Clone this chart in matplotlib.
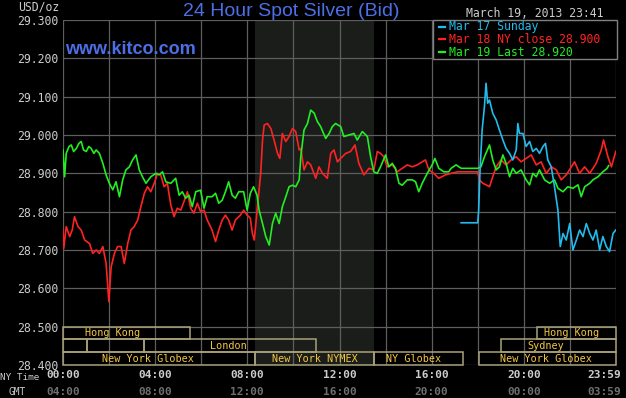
import matplotlib
matplotlib.use('Agg')
import matplotlib.pyplot as plt
from matplotlib.patches import Rectangle
from matplotlib.lines import Line2D
import matplotlib.transforms as mtransforms

# ---------------- data ----------------
green_h = [0.0, 0.07, 0.14, 0.26, 0.36, 0.46, 0.58, 0.69, 0.79, 0.89, 1.01, 1.12, 1.22, 1.34, 1.44, 1.58,
           1.73, 1.87, 2.01, 2.16, 2.30, 2.45, 2.59, 2.73, 2.88, 3.02, 3.17, 3.31, 3.45, 3.60, 3.81, 4.03,
           4.17, 4.32, 4.46, 4.68, 4.89, 5.04, 5.18, 5.32, 5.47, 5.61, 5.76, 5.97, 6.12, 6.26, 6.47, 6.62,
           6.76, 6.91, 7.05, 7.19, 7.34, 7.48, 7.63, 7.84, 7.99, 8.13, 8.27, 8.42,
           8.51, 8.66, 8.80, 8.95, 9.09, 9.23, 9.38, 9.52, 9.67, 9.81, 9.96, 10.10, 10.25, 10.32, 10.46,
           10.61, 10.75, 10.90, 11.04, 11.18, 11.40, 11.55, 11.69, 11.83, 12.05, 12.19, 12.41, 12.63,
           12.77, 12.99, 13.21, 13.35, 13.49, 13.64, 13.78, 14.00, 14.14, 14.29, 14.43, 14.58, 14.72,
           14.94, 15.16, 15.30, 15.44, 15.59, 15.81, 16.02, 16.14, 16.31, 16.53, 16.74,
           16.84, 17.06, 17.28, 18.0, 18.14, 18.29, 18.51, 18.65, 18.80, 18.94, 19.09, 19.23, 19.38,
           19.52, 19.67, 19.88, 20.10, 20.25, 20.39, 20.54, 20.68, 20.90, 21.12, 21.33, 21.48, 21.70,
           21.91, 22.13, 22.35, 22.49, 22.64, 22.86, 23.00, 23.22, 23.43, 23.60, 23.68]
green_v = [28.961, 28.891, 28.952, 28.970, 28.974, 28.957, 28.965, 28.978, 28.983, 28.961, 28.957, 28.970,
           28.965, 28.952, 28.961, 28.952, 28.926, 28.896, 28.874, 28.857, 28.878, 28.839, 28.883, 28.909,
           28.917, 28.935, 28.948, 28.909, 28.891, 28.874, 28.891, 28.900, 28.896, 28.904, 28.878, 28.874,
           28.887, 28.843, 28.852, 28.835, 28.843, 28.813, 28.852, 28.856, 28.809, 28.839, 28.839, 28.848,
           28.822, 28.830, 28.852, 28.878, 28.843, 28.835, 28.852, 28.852, 28.804, 28.848, 28.865, 28.843,
           28.804, 28.769, 28.735, 28.713, 28.769, 28.796, 28.769, 28.813, 28.839, 28.865, 28.869, 28.865,
           28.883, 28.943, 29.013, 29.030, 29.065, 29.057, 29.035, 29.022, 28.991, 29.004, 29.022, 29.030,
           29.022, 28.996, 29.000, 29.004, 28.987, 29.009, 28.996, 28.943, 28.904, 28.900, 28.917, 28.948,
           28.917, 28.926, 28.913, 28.874, 28.869, 28.883, 28.883, 28.878, 28.852, 28.874, 28.900, 28.922,
           28.939, 28.913, 28.904, 28.904,
           28.913, 28.922, 28.913, 28.913, 28.917, 28.943, 28.974, 28.935, 28.909, 28.917, 28.948, 28.926,
           28.891, 28.913, 28.900, 28.909, 28.883, 28.870, 28.900, 28.891, 28.909, 28.883, 28.874, 28.883,
           28.861, 28.852, 28.865, 28.861, 28.870, 28.839, 28.865, 28.874, 28.883, 28.891, 28.904, 28.912,
           28.920]

red_h = [0.0, 0.03, 0.14, 0.29, 0.40, 0.50, 0.65, 0.79, 0.94, 1.15, 1.29, 1.44, 1.58, 1.73, 1.87, 1.99,
         2.09, 2.23, 2.37, 2.52, 2.66, 2.81, 2.95, 3.09, 3.24, 3.38, 3.53, 3.67, 3.81, 3.96, 4.10, 4.24,
         4.39, 4.53, 4.68, 4.82, 4.96, 5.11, 5.25, 5.40, 5.54, 5.68, 5.83, 5.97, 6.12, 6.26, 6.47, 6.62,
         6.76, 6.91, 7.05, 7.19, 7.34, 7.48, 7.70, 7.84, 7.99, 8.13,
         8.22, 8.30, 8.44, 8.58, 8.66, 8.73, 8.87, 9.02, 9.16, 9.31, 9.41, 9.52, 9.67, 9.81, 9.96, 10.10,
         10.25, 10.32, 10.46, 10.61, 10.75, 10.97, 11.11, 11.26, 11.47, 11.62, 11.76, 11.91, 12.05, 12.27,
         12.48, 12.67, 12.84, 13.06, 13.28, 13.49, 13.64, 13.78, 13.93, 14.07, 14.29, 14.51, 14.72, 14.94,
         15.16, 15.37, 15.73, 15.88, 16.09, 16.31, 16.60,
         16.84, 17.13, 18.0, 18.07, 18.22, 18.36, 18.51, 18.65, 18.80, 19.01, 19.23, 19.45, 19.67, 19.88,
         20.10, 20.32, 20.54, 20.75, 20.97, 21.19, 21.41, 21.62, 21.84, 22.06, 22.20, 22.42, 22.64, 22.86,
         23.14, 23.36, 23.46, 23.65, 23.80, 23.99]
red_v = [28.752, 28.704, 28.761, 28.735, 28.752, 28.787, 28.761, 28.752, 28.726, 28.717, 28.691, 28.700,
         28.691, 28.709, 28.665, 28.565, 28.656, 28.691, 28.709, 28.709, 28.665, 28.717, 28.752, 28.761,
         28.778, 28.813, 28.848, 28.865, 28.852, 28.874, 28.900, 28.896, 28.865, 28.874, 28.817, 28.787,
         28.809, 28.804, 28.826, 28.852, 28.809, 28.796, 28.822, 28.800, 28.804, 28.778, 28.752, 28.722,
         28.752, 28.778, 28.791, 28.778, 28.752, 28.778, 28.791, 28.804, 28.791, 28.783,
         28.743, 28.726, 28.813, 28.900, 28.987, 29.026, 29.030, 29.017, 28.987, 28.952, 28.939, 29.004,
         28.983, 28.996, 29.017, 29.009, 28.961, 28.965, 28.909, 28.930, 28.922, 28.887, 28.917, 28.900,
         28.887, 28.952, 28.961, 28.930, 28.939, 28.952, 28.957, 28.974, 28.926, 28.896, 28.913, 28.909,
         28.957, 28.952, 28.943, 28.917, 28.922, 28.904, 28.913, 28.922, 28.917, 28.922, 28.935, 28.909,
         28.900, 28.887, 28.896,
         28.900, 28.904, 28.904, 28.883, 28.874, 28.870, 28.865, 28.891, 28.917, 28.935, 28.922, 28.935,
         28.943, 28.930, 28.939, 28.948, 28.922, 28.930, 28.900, 28.917, 28.909, 28.883, 28.896, 28.917,
         28.930, 28.900, 28.917, 28.900, 28.926, 28.961, 28.987, 28.943, 28.917, 28.957]

cyan_h = [17.28, 18.0, 18.04, 18.10, 18.19, 18.29, 18.36, 18.43, 18.51, 18.65, 18.80, 18.94, 19.09, 19.23,
          19.38, 19.52, 19.67, 19.74, 19.81, 19.96, 20.10, 20.25, 20.39, 20.54, 20.68, 20.83, 20.94, 21.04,
          21.19, 21.33, 21.48, 21.58, 21.70, 21.84, 21.99, 22.13, 22.28, 22.42, 22.57, 22.71, 22.86, 23.00,
          23.14, 23.29, 23.43, 23.58, 23.72, 23.87, 23.99]
cyan_v = [28.771, 28.771, 28.804, 28.909, 29.013, 29.074, 29.135, 29.083, 29.091, 29.057, 29.039, 29.013,
          28.987, 28.965, 28.952, 28.935, 28.961, 29.030, 29.004, 29.004, 28.970, 28.983, 28.957, 28.965,
          28.952, 28.970, 28.978, 28.935, 28.917, 28.865, 28.804, 28.709, 28.743, 28.726, 28.769, 28.700,
          28.726, 28.752, 28.735, 28.769, 28.743, 28.726, 28.752, 28.700, 28.735, 28.709, 28.696, 28.743,
          28.752]

# trading sessions: (row, start hour, end hour, label)
sessions = [
    (0, 0.0, 5.5, "Hong Kong"),
    (0, 20.55, 24.0, "Hong Kong"),
    (1, 0.0, 1.03, ""),
    (1, 1.03, 3.5, ""),
    (1, 3.5, 11.0, "London"),
    (1, 19.03, 24.0, "Sydney"),
    (2, 0.0, 8.33, "New York Globex"),
    (2, 8.33, 13.5, "New York NYMEX"),
    (2, 13.5, 17.35, "NY Globex"),
    (2, 18.05, 24.0, "New York Globex"),
]
label_offsets = [-0.62, -0.22, 0, 0, -0.09, -0.55, -0.5, 0.0, -0.2, -0.06]

nymex_shade = (8.33, 13.5)
ny_ticks = ["00:00", "04:00", "08:00", "12:00", "16:00", "20:00", "23:59"]
gmt_ticks = ["04:00", "08:00", "12:00", "16:00", "20:00", "00:00", "03:59"]
tick_hours = [0, 4, 8, 12, 16, 20, 24]
legend_labels = ["Mar 17 Sunday", "Mar 18 NY close 28.900", "Mar 19 Last 28.920"]

# ---------------- style ----------------
W, H = 626, 398
MONO = "DejaVu Sans Mono"
C_RED = "#ff2222"
C_GREEN = "#22ee22"
C_CYAN = "#22bbee"
C_GRID = "#5e5e5e"
C_TXT = "#cccccc"
C_BOX = "#aaa27a"
C_BOXTXT = "#f2c744"
C_BLUE = "#4d6fe6"

fig = plt.figure(figsize=(W / 100, H / 100), dpi=100, facecolor="black")
ax = fig.add_axes([63 / W, 33 / H, 553 / W, 345 / H])
ax.set_facecolor("black")
ax.set_xlim(0, 24)
ax.set_ylim(28.4, 29.3)
for s in ax.spines.values():
    s.set_visible(False)

ax.axvspan(*nymex_shade, color="#1b1d1b", zorder=0, lw=0)

ax.set_xticks(range(0, 25, 2))
ax.set_xticklabels([])
yt = [28.4 + 0.1 * i for i in range(10)]
ax.set_yticks(yt)
ax.set_yticklabels([f"{v:.3f}" for v in yt], family=MONO, fontsize=8.3, color=C_TXT)
ax.tick_params(length=0, pad=3.5)
ax.grid(True, color=C_GRID, lw=0.9, zorder=1)
ax.set_axisbelow(True)

# sessions
row_h = 0.1 / 3
for (row, s0, s1, lab), off in zip(sessions, label_offsets):
    y0 = 28.5 - (row + 1) * row_h
    ax.add_patch(Rectangle((s0, y0), s1 - s0, row_h, fill=False, edgecolor=C_BOX, lw=1.1, zorder=2,
                           clip_on=False))
    if lab:
        ax.text((s0 + s1) / 2 + off, y0 + row_h / 2, lab, ha="center", va="center", family=MONO,
                fontsize=7.3, color=C_BOXTXT, zorder=3)

ax.plot(red_h, red_v, color=C_RED, lw=1.2, zorder=4)
ax.plot(green_h, green_v, color=C_GREEN, lw=1.2, zorder=5)
ax.plot(cyan_h, cyan_v, color=C_CYAN, lw=1.2, zorder=6)

# x tick labels (two rows)
trans = mtransforms.blended_transform_factory(ax.transData, ax.transAxes)
for h, a, b in zip(tick_hours, ny_ticks, gmt_ticks):
    xx = h if h < 24 else 23.5
    ax.text(xx, -10.5 / 345, a, transform=trans, ha="center", va="center", family=MONO,
            fontsize=8.0, fontweight="bold", color=C_TXT, clip_on=False)
    ax.text(xx, -27 / 345, b, transform=trans, ha="center", va="center", family=MONO,
            fontsize=8.0, fontweight="bold", color="#6f6f6f", clip_on=False)

fig.text(0 / W, 1 - 377 / H, "NY Time", ha="left", va="center", family=MONO, fontsize=6.7, color=C_TXT)
fig.text(17 / W, 1 - 392 / H, "GMT", ha="center", va="center", family=MONO, fontsize=6.9, color=C_TXT)
fig.text(59 / W, 1 - 7 / H, "USD/oz", ha="right", va="center", family=MONO, fontsize=8.3, color=C_TXT)

fig.text(291.5 / W, 1 - 15.5 / H, "24 Hour Spot Silver (Bid)", ha="center", va="baseline",
         family="Liberation Sans", fontsize=14, color=C_BLUE)
fig.text(65 / W, 1 - 54 / H, "www.kitco.com", ha="left", va="baseline", family="Liberation Sans",
         fontweight="bold", fontsize=13, color=C_BLUE)
fig.text(604 / W, 1 - 13.5 / H, "March 19, 2013 23:41", ha="right", va="center", family=MONO,
         fontsize=8.3, color=C_TXT)

# legend
fig.add_artist(Rectangle((432.7 / W, 1 - 59 / H), 184 / W, 39 / H, transform=fig.transFigure,
                         facecolor="black", edgecolor="#808080", lw=1.0, zorder=10))
for i, (lab, c) in enumerate(zip(legend_labels, [C_CYAN, C_RED, C_GREEN])):
    yy = 1 - (26.7 + 12.65 * i) / H
    fig.add_artist(Line2D([439 / W, 445.5 / W], [yy, yy], transform=fig.transFigure, color=c, lw=1.6,
                          zorder=11))
    fig.text(449 / W, yy, lab, ha="left", va="center", family=MONO, fontsize=8.3, color=c, zorder=12)

fig.savefig("out.png", dpi=100, facecolor="black")
